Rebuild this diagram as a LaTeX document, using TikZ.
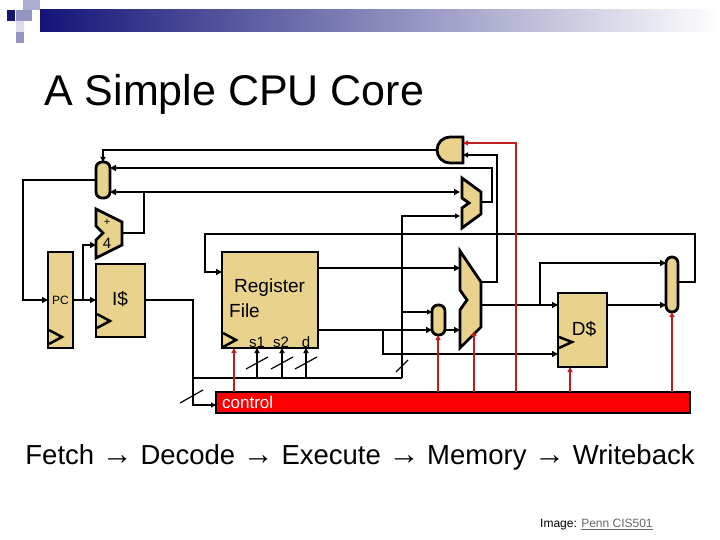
\documentclass[tikz,border=0pt]{standalone}
\usepackage{fontspec}
\setmainfont{Liberation Sans}
\usetikzlibrary{arrows.meta}
\definecolor{tan}{RGB}{232,210,140}
\definecolor{ctl}{RGB}{250,0,0}
\definecolor{ctlw}{RGB}{190,30,30}
\definecolor{navy}{RGB}{20,20,120}
\begin{document}
\begin{tikzpicture}[x=1pt,y=-1pt,
  box/.style={draw=black,line width=2.8pt,fill=tan},
  bus/.style={line width=2.5pt,line join=miter},
  wire/.style={line width=1.2pt},
  cw/.style={line width=1.2pt,draw=ctlw,-{Triangle[length=5pt,width=5pt]},color=ctlw},
  arr/.style={-{Triangle[length=6pt,width=6pt]}},
  sarr/.style={-{Triangle[length=5pt,width=5pt]}},
  lbl/.style={inner sep=0pt,font=\fontsize{19}{20}\selectfont},
  clk/.style={line width=2.5pt}]
\useasboundingbox (0,0) rectangle (720,540);
% header bar
\shade[left color=navy,right color=white] (40,10) rectangle (720,32);
\fill[navy] (7,10) rectangle (15,21);
\fill[navy!35] (23,0) rectangle (40,10);
\fill[navy!45] (16,10) rectangle (32,21);
\fill[navy!15] (16,21) rectangle (24,32);
\fill[navy!45] (16,32) rectangle (24,43);
\node[anchor=base west,inner sep=0pt,font=\fontsize{43}{44}\selectfont] (title) at (44,106) {A Simple CPU Core};
% components
\node[box,minimum width=25pt,minimum height=96pt,inner sep=0pt] (pc) at (60.5,300) {};
\node[font=\fontsize{12}{12}\selectfont] (pct) at (60.5,300) {PC};
\node[box,minimum width=49pt,minimum height=73pt,inner sep=0pt] (ic) at (120.5,300.5) {};
\node[lbl] (ict) at (120,299) {I\$};
\node[box,minimum width=96pt,minimum height=96pt,inner sep=0pt] (rf) at (270,300) {};
\node[lbl,anchor=west] (rft1) at (234,288) {Register};
\node[lbl,anchor=west] (rft2) at (229,311) {File};
\node[font=\fontsize{15}{15}\selectfont,inner sep=0pt] (s1) at (257,342) {s1};
\node[font=\fontsize{15}{15}\selectfont,inner sep=0pt] (s2) at (281,342) {s2};
\node[font=\fontsize{15}{15}\selectfont,inner sep=0pt] (dd) at (306,342) {d};
\node[box,minimum width=49pt,minimum height=74pt,inner sep=0pt] (dc) at (582.5,330) {};
\node[lbl] (dct) at (584,329) {D\$};
\draw[box,rounded corners=6pt] (96,162) rectangle (110,198);
\draw[box,rounded corners=6pt] (432,305) rectangle (445,335);
\draw[box,rounded corners=6pt] (666,257) rectangle (678,312);
% adder
\draw[box,line join=miter] (96,209) -- (122,222) -- (122,245) -- (96,258) -- (96,240) -- (103,233) -- (96,226) -- cycle;
\node[font=\fontsize{11}{11}\selectfont] (plus) at (107,222) {+};
\node[font=\fontsize{15}{15}\selectfont] (four) at (107,243) {4};
% branch mux and ALU
\draw[box,line join=miter] (462,178) -- (481,192) -- (481,214) -- (462,228) -- (462,208) -- (469,203) -- (462,198) -- cycle;
\draw[box,line join=miter] (460,251) -- (481,282) -- (481,327) -- (460,348) -- (460,310) -- (467,300) -- (460,290) -- cycle;
% AND gate
\draw[box] (463,137) -- (450,137) arc (270:90:13) -- (463,163) -- cycle;
% clocks
\draw[clk] (49,330) -- (62,337) -- (49,344);
\draw[clk] (97,314) -- (110,321) -- (97,328);
\draw[clk] (223,333) -- (236,340) -- (223,347);
\draw[clk] (559,337) -- (572,342) -- (559,348);
% control bar
\node[draw=black,line width=1.5pt,fill=ctl,minimum width=474pt,minimum height=21pt,inner sep=0pt] (ctrl) at (453,402.5) {};
\node[anchor=west,text=white,font=\fontsize{17}{17}\selectfont,inner sep=0pt] (ctrlt) at (222,402) {control};
% datapath wires
\draw[bus,arr] (96,180) -- (23,180) -- (23,300) -- (48,300);
\draw[bus,arr] (73,300) -- (96,300);
\draw[bus,arr] (83,300) -- (83,245) -- (96,245);
\draw[bus,arr] (122,233) -- (144,233) -- (144,192) -- (110,192);
\draw[bus,arr] (144,192) -- (460,192);
\draw[bus,arr] (481,202) -- (492,202) -- (492,168) -- (110,168);
\draw[wire,sarr] (437,150) -- (103,150) -- (103,162);
\draw[bus,arr] (678,282) -- (695,282) -- (695,234) -- (205,234) -- (205,272) -- (222,272);
\draw[bus,arr] (318,268) -- (460,268);
\draw[bus,arr] (318,330) -- (432,330);
\draw[bus,arr] (445,330) -- (460,330);
\draw[bus,arr] (383,330) -- (383,354) -- (558,354);
\draw[bus,arr] (481,305) -- (558,305);
\draw[bus,arr] (540,305) -- (540,263) -- (666,263);
\draw[bus,arr] (607,305) -- (666,305);
\draw[wire,sarr] (481,282) -- (497,282) -- (497,155) -- (463,155);
\draw[wire,sarr] (145,300) -- (193,300) -- (193,405) -- (216,405);
\draw[wire] (193,378) -- (402,378);
\draw[wire,sarr] (402,378) -- (402,216) -- (460,216);
\draw[wire,sarr] (402,312) -- (432,312);
\foreach \x in {257,282,306} {
  \draw[wire,sarr] (\x,378) -- (\x,348);
  \draw[wire] (\x-11,369) -- (\x+11,357);
}
\draw[wire] (180,403) -- (203,390);
\draw[wire] (396,372) -- (408,360);
% control wires
\draw[cw] (234,392) -- (234,348);
\draw[cw] (438,392) -- (438,335);
\draw[cw] (474,392) -- (474,331);
\draw[cw] (516,392) -- (516,143) -- (463,143);
\draw[cw] (570,392) -- (570,367);
\draw[cw] (672,392) -- (672,312);
% captions
\node[anchor=base,inner sep=0pt,font=\fontsize{27.5}{28}\selectfont] (stages) at (360,464) {Fetch {\fontsize{31}{31}\selectfont →} Decode {\fontsize{31}{31}\selectfont →} Execute {\fontsize{31}{31}\selectfont →} Memory {\fontsize{31}{31}\selectfont →} Writeback};
\node[anchor=base west,inner sep=0pt,font=\fontsize{12}{12}\selectfont] (credit) at (540,527) {Image:};
\node[anchor=base west,inner sep=0pt,font=\fontsize{12}{12}\selectfont,text=gray!80!black] (src) at ([xshift=4pt]credit.base east) {Penn CIS501};
\draw[gray!80!black,line width=0.8pt] ([yshift=-2pt]src.base west) -- ([yshift=-2pt]src.base east);
\end{tikzpicture}
\end{document}
